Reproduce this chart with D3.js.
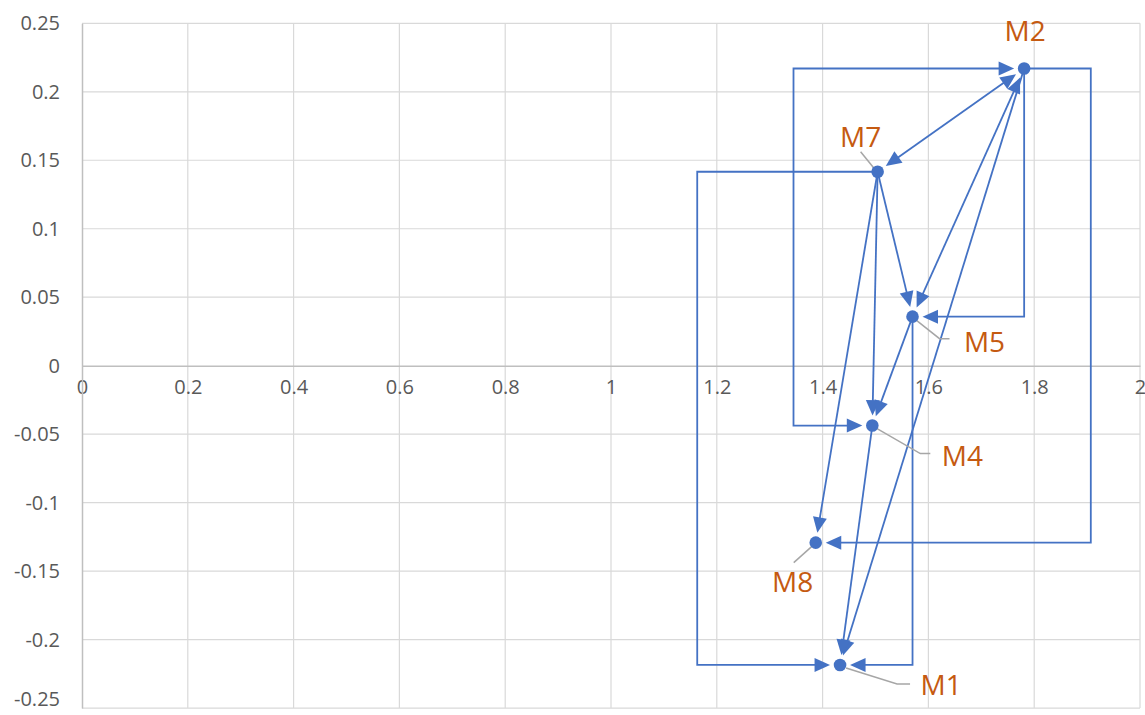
<!DOCTYPE html>
<html><head><meta charset="utf-8">
<script src="https://cdn.jsdelivr.net/npm/d3@7"></script>
<style>
html,body{margin:0;padding:0;background:#fff;}
svg{display:block;}
</style></head>
<body>
<svg id="chart" width="1145" height="715"></svg>
<script>
// ---- data ----
const nodeNames = ["M1","M2","M4","M5","M7","M8"];
const nodeX = [1.433, 1.781, 1.494, 1.570, 1.504, 1.387];
const nodeY = [-0.2185, 0.217, -0.0437, 0.0358, 0.1416, -0.1292];

const xTicks = [0, 0.2, 0.4, 0.6, 0.8, 1, 1.2, 1.4, 1.6, 1.8, 2];
const yTicks = [0.25, 0.2, 0.15, 0.1, 0.05, 0, -0.05, -0.1, -0.15, -0.2, -0.25];

// straight arrows: [from, to, arrowAtStart, arrowAtEnd]
const straightEdges = [
  ["M7","M2",true,true],
  ["M5","M2",true,true],
  ["M2","M1",false,true],
  ["M7","M5",false,true],
  ["M7","M4",false,true],
  ["M5","M4",false,true],
  ["M7","M8",false,true],
  ["M4","M1",false,true]
];
// elbow connectors: [from, to, routeX (data units), arrowAtStart, arrowAtEnd]
const elbowEdges = [
  ["M7","M1",1.163,false,true],
  ["M4","M2",1.345,true,true],
  ["M2","M8",1.907,false,true],
  ["M2","M5",1.781,false,true],
  ["M5","M1",1.570,false,true]
];

// ---- layout ----
const svg = d3.select("#chart");
const x = d3.scaleLinear().domain([0,2]).range([82,1140]);
const y = d3.scaleLinear().domain([-0.25,0.25]).range([708.1,23.3]);

const blue = "#4472C4", orange = "#C55A11", grid = "#D9D9D9", txt = "#595959";
const font = "'Open Sans', 'Liberation Sans', sans-serif";

// label placement (pixel offsets relative to point)
const labelLayout = {
  M2:{dx:1, dy:-27, leader:null},
  M7:{dx:-17, dy:-25, leader:[[-4,-4],[-17,-20]]},
  M5:{dx:72, dy:35, leader:[[3,3],[27,22],[37,22]]},
  M4:{dx:90, dy:40, leader:[[3,2],[48,28],[58,28]]},
  M8:{dx:-23, dy:49, leader:[[-3,3],[-22,20]]},
  M1:{dx:101, dy:30, leader:[[6,3],[57,19],[70,19]]}
};

// gridlines
svg.append("g").selectAll("line").data(xTicks.filter(d=>d!==0)).join("line")
  .attr("x1",d=>x(d)).attr("x2",d=>x(d)).attr("y1",y(0.25)).attr("y2",y(-0.25))
  .attr("stroke",grid).attr("stroke-width",1.2);
svg.append("g").selectAll("line").data(yTicks.filter(d=>d!==0)).join("line")
  .attr("x1",x(0)).attr("x2",x(2)).attr("y1",d=>y(d)).attr("y2",d=>y(d))
  .attr("stroke",grid).attr("stroke-width",1.2);

// axes
const xAxis = d3.axisBottom(x).tickValues(xTicks).tickSize(0).tickFormat(d=>String(d));
const gx = svg.append("g").attr("transform",`translate(0,${y(0)})`).call(xAxis);
gx.select(".domain").attr("stroke","#BFBFBF").attr("stroke-width",1.5);
gx.selectAll("text").attr("fill",txt).attr("font-family",font).attr("font-size",20).attr("dy","0.71em").attr("y",14);

const yAxis = d3.axisLeft(y).tickValues(yTicks).tickSize(0).tickFormat(d=>String(d));
const gy = svg.append("g").attr("transform",`translate(${x(0)},0)`).call(yAxis);
gy.select(".domain").attr("stroke","#BFBFBF").attr("stroke-width",1.5);
gy.selectAll("text").attr("fill",txt).attr("font-family",font).attr("font-size",20).attr("x",-22)
  .attr("dy",d=>d===-0.25?"-0.12em":"0.32em");

// helpers
const idx = n => nodeNames.indexOf(n);
const P = n => [x(nodeX[idx(n)]), y(nodeY[idx(n)])];
const gap = 10, aLen = 15.5, aW = 7;

const edgeG = svg.append("g");
function drawArrowPath(pts, aStart, aEnd){
  pts = pts.map(p=>p.slice());
  const shorten = (a,b,dist)=>{
    const dx=b[0]-a[0], dy=b[1]-a[1], L=Math.hypot(dx,dy)||1;
    return [a[0]+dx/L*dist, a[1]+dy/L*dist];
  };
  const heads=[];
  if(aStart){
    const tip = shorten(pts[0],pts[1],gap);
    heads.push([tip, pts[1]]);
    pts[0] = shorten(pts[0],pts[1],gap+aLen-1);
  }
  const n=pts.length;
  if(aEnd){
    const tip = shorten(pts[n-1],pts[n-2],gap);
    heads.push([tip, pts[n-2]]);
    pts[n-1] = shorten(pts[n-1],pts[n-2],gap+aLen-1);
  }
  edgeG.append("path").attr("d",d3.line()(pts)).attr("fill","none")
    .attr("stroke",blue).attr("stroke-width",1.8);
  heads.forEach(([tip,from])=>{
    const dx=tip[0]-from[0], dy=tip[1]-from[1], L=Math.hypot(dx,dy);
    const ux=dx/L, uy=dy/L, bx=tip[0]-ux*aLen, by=tip[1]-uy*aLen;
    const tri=[tip,[bx-uy*aW,by+ux*aW],[bx+uy*aW,by-ux*aW]];
    edgeG.append("path").attr("d","M"+tri.map(p=>p.join(",")).join("L")+"Z").attr("fill",blue);
  });
}

straightEdges.forEach(([a,b,s,e])=>drawArrowPath([P(a),P(b)],s,e));
elbowEdges.forEach(([a,b,rx,s,e])=>{
  const pa=P(a), pb=P(b), xr=x(rx);
  let pts;
  if(Math.abs(xr-pa[0])<1) pts=[pa,[pa[0],pb[1]],pb];
  else pts=[pa,[xr,pa[1]],[xr,pb[1]],pb];
  drawArrowPath(pts,s,e);
});

// leader lines
const lg = svg.append("g");
nodeNames.forEach(n=>{
  const L=labelLayout[n]; if(!L.leader) return;
  const p=P(n);
  lg.append("path").attr("d",d3.line()(L.leader.map(o=>[p[0]+o[0],p[1]+o[1]])))
    .attr("fill","none").attr("stroke","#A6A6A6").attr("stroke-width",1.5);
});

// points
svg.append("g").selectAll("circle").data(nodeNames).join("circle")
  .attr("cx",d=>P(d)[0]).attr("cy",d=>P(d)[1]).attr("r",6.3).attr("fill",blue);

// labels
svg.append("g").selectAll("text").data(nodeNames).join("text")
  .attr("x",d=>P(d)[0]+labelLayout[d].dx).attr("y",d=>P(d)[1]+labelLayout[d].dy)
  .attr("text-anchor","middle").attr("fill",orange).attr("font-family",font)
  .attr("font-size",28).text(d=>d);
</script>
</body></html>
